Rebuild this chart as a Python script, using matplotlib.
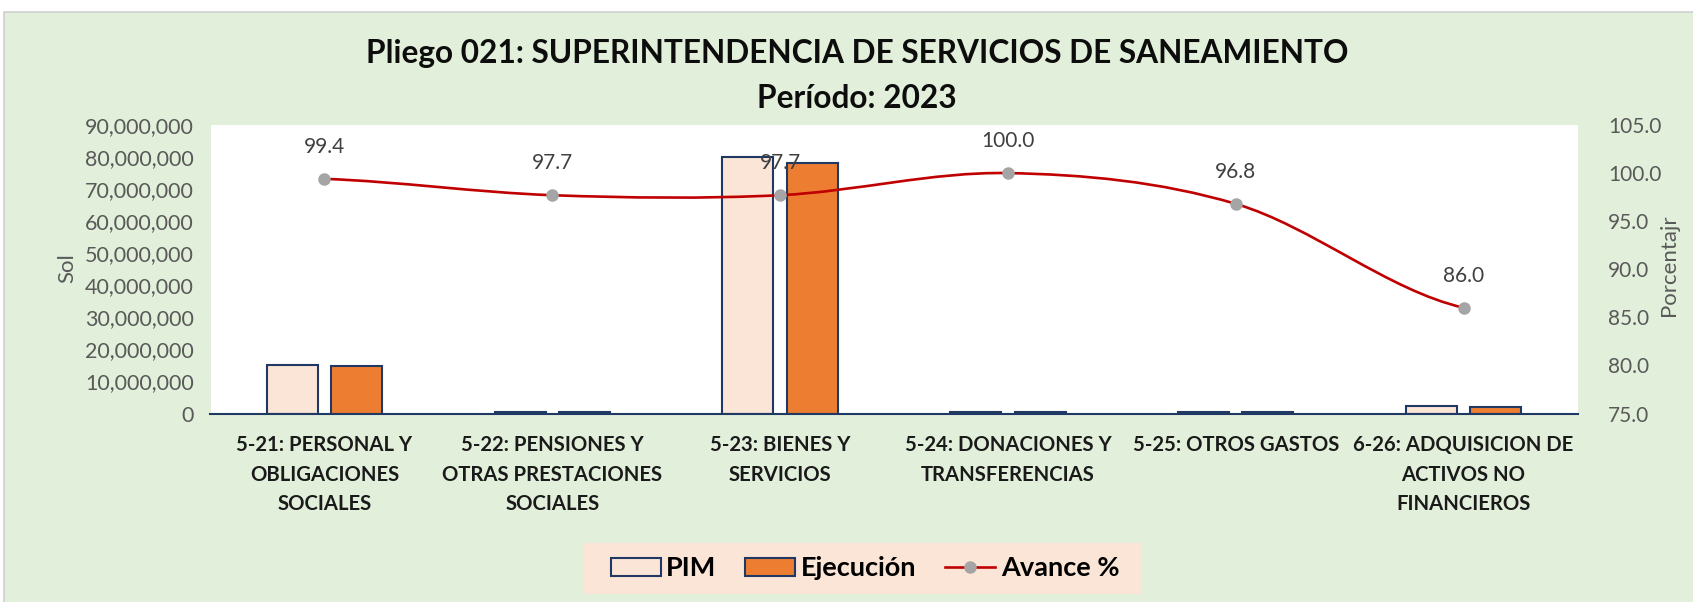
import numpy as np
import matplotlib
matplotlib.use("Agg")
import matplotlib.pyplot as plt
from matplotlib.path import Path
from matplotlib.patches import PathPatch, Rectangle
from matplotlib.lines import Line2D
from matplotlib.ticker import FuncFormatter, MultipleLocator

plt.rcParams['font.family'] = ['Lato', 'DejaVu Sans']

# ---------------- data ----------------
categories = [
    "5-21: PERSONAL Y\nOBLIGACIONES\nSOCIALES",
    "5-22: PENSIONES Y\nOTRAS PRESTACIONES\nSOCIALES",
    "5-23: BIENES Y\nSERVICIOS",
    "5-24: DONACIONES Y\nTRANSFERENCIAS",
    "5-25: OTROS GASTOS",
    "6-26: ADQUISICION DE\nACTIVOS NO\nFINANCIEROS",
]
pim = [15.0e6, 0.5e6, 79.9e6, 0.5e6, 0.5e6, 2.4e6]
ejecucion = [14.9e6, 0.49e6, 78.05e6, 0.5e6, 0.48e6, 2.06e6]
avance = [99.4, 97.7, 97.7, 100.0, 96.8, 86.0]

title_line1 = "Pliego 021: SUPERINTENDENCIA DE SERVICIOS DE SANEAMIENTO"
title_line2 = "Período: 2023"
left_label = "Sol"
right_label = "Porcentajr"
legend_labels = ["PIM", "Ejecución", "Avance %"]

# ---------------- style ----------------
W, H = 1693, 602
BG = '#E2EFDA'
PIM_C = '#FBE5D6'
EJE_C = '#ED7D31'
EDGE = '#1F3864'
LINE_C = '#C00000'
MARK_C = '#A5A5A5'
TICK_C = '#595959'

fig = plt.figure(figsize=(W / 100, H / 100), dpi=100)
fig.patch.set_facecolor('white')
fig.patches.append(Rectangle((4 / W, -0.01), 1.0, (H - 12) / H + 0.01,
                             transform=fig.transFigure, facecolor=BG,
                             edgecolor='#D0D0D0', linewidth=1.2, zorder=-10))

ax = fig.add_axes([210.5 / W, (H - 413.5) / H, 1367 / W, 288.5 / H])
ax.set_facecolor('white')
x = np.arange(len(categories))
bw = 0.224
off = 0.141
ax.bar(x - off, pim, width=bw, color=PIM_C, edgecolor=EDGE, linewidth=1.5, zorder=2)
ax.bar(x + off, ejecucion, width=bw, color=EJE_C, edgecolor=EDGE, linewidth=1.5, zorder=2)
ax.set_xlim(-0.5, len(categories) - 0.5)
ax.set_ylim(0, 90e6)
ax.yaxis.set_major_locator(MultipleLocator(10e6))
ax.yaxis.set_major_formatter(FuncFormatter(lambda v, p: f"{v:,.0f}"))
for s in ['top', 'left', 'right']:
    ax.spines[s].set_visible(False)
ax.spines['bottom'].set_color(EDGE)
ax.spines['bottom'].set_linewidth(1.5)
ax.spines['bottom'].set_zorder(3)
ax.set_xticks(x)
ax.set_xticklabels(categories, fontsize=14.6, fontweight='bold', color='#1A1A1A',
                   linespacing=1.6)
ax.tick_params(axis='x', length=0, pad=15.5)
ax.tick_params(axis='y', length=0, pad=12, labelsize=15.5, labelcolor=TICK_C)
ax.set_ylabel(left_label, fontsize=16, color=TICK_C)
ax.yaxis.set_label_coords(-0.0975, 0.505)

ax2 = ax.twinx()
ax2.set_ylim(75, 105)
ax2.yaxis.set_major_locator(MultipleLocator(5))
ax2.yaxis.set_major_formatter(FuncFormatter(lambda v, p: f"{v:.1f}"))
for s in ax2.spines.values():
    s.set_visible(False)
ax2.tick_params(axis='y', length=0, pad=22, labelsize=15, labelcolor=TICK_C)
ax2.set_ylabel(right_label, fontsize=16, color=TICK_C, rotation=90)
ax2.yaxis.set_label_coords(1.0594, 0.515)

# smoothed line (Catmull-Rom as Bezier, like Excel's smoothed line)
ya = np.array(avance, dtype=float)
n = len(ya)
m = np.zeros(n)
for i in range(n):
    lo = max(i - 1, 0)
    hi = min(i + 1, n - 1)
    m[i] = (ya[hi] - ya[lo]) / 2.0
verts = [(x[0], ya[0])]
codes = [Path.MOVETO]
for i in range(n - 1):
    verts += [(x[i] + 1 / 3, ya[i] + m[i] / 3),
              (x[i + 1] - 1 / 3, ya[i + 1] - m[i + 1] / 3),
              (x[i + 1], ya[i + 1])]
    codes += [Path.CURVE4] * 3
ax2.add_patch(PathPatch(Path(verts, codes), facecolor='none', edgecolor=LINE_C,
                        linewidth=1.9, zorder=3))
ax2.plot(x, ya, linestyle='none', marker='o', markersize=8, color=MARK_C, zorder=4)
for xi, v in zip(x, ya):
    ax2.annotate(f"{v:.1f}", (xi, v), xytext=(0, 23), textcoords='offset points',
                 ha='center', va='center', fontsize=15, color='#404040', zorder=5)

# titles
fig.text(857 / W, 1 - 54 / H, title_line1, ha='center', va='center',
         fontsize=22.8, fontweight='bold', color='#0D0D0D')
fig.text(857 / W, 1 - 99 / H, title_line2, ha='center', va='center',
         fontsize=22.8, fontweight='bold', color='#0D0D0D')

# legend background box
fig.patches.append(Rectangle((584 / W, 1 - 594 / H), (1142 - 584) / W, 51 / H,
                             transform=fig.transFigure, facecolor=PIM_C,
                             edgecolor='none', zorder=1))
handles = [
    Rectangle((0, 0), 1, 1, facecolor=PIM_C, edgecolor=EDGE, linewidth=1.5),
    Rectangle((0, 0), 1, 1, facecolor=EJE_C, edgecolor=EDGE, linewidth=1.5),
    Line2D([0], [0], color=LINE_C, linewidth=1.9, marker='o', markersize=8,
           markerfacecolor=MARK_C, markeredgecolor=MARK_C),
]
leg = fig.legend(handles, legend_labels, loc='center', ncol=3,
                 bbox_to_anchor=(865 / W, 1 - 568.5 / H),
                 frameon=False,
                 prop={'weight': 'bold', 'size': 19.5}, handlelength=1.85,
                 handleheight=0.68, handletextpad=0.2, columnspacing=1.07,
                 borderpad=0.3)

fig.savefig("out.png", dpi=100, facecolor=fig.get_facecolor())
